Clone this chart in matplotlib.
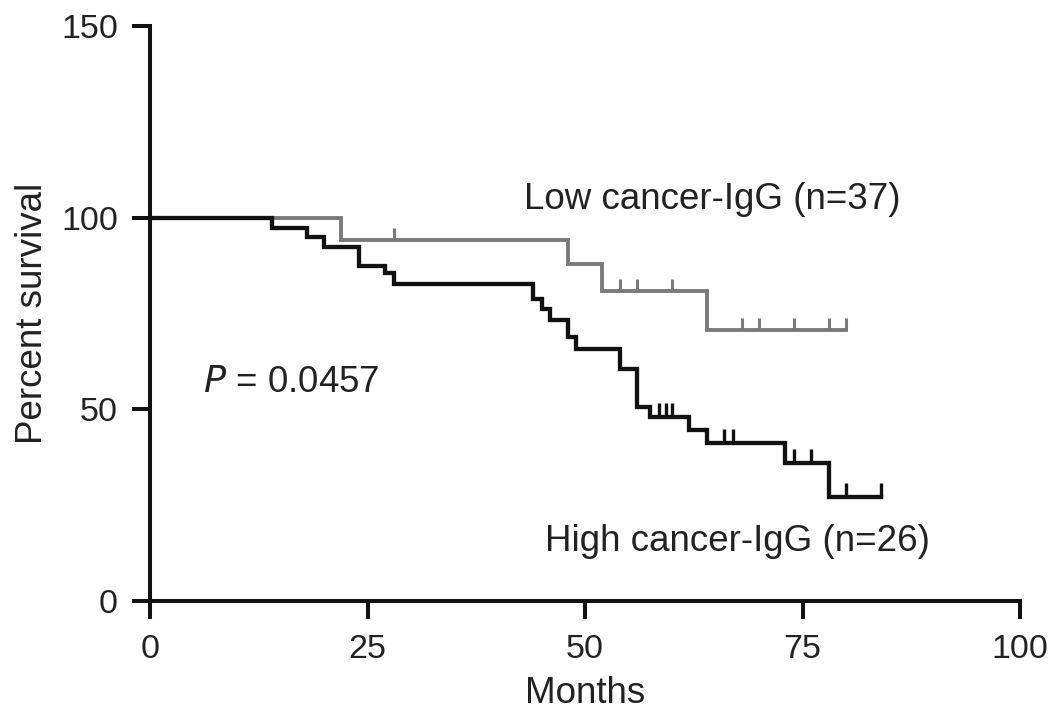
import numpy as np
import matplotlib
matplotlib.use("Agg")
import matplotlib.pyplot as plt

plt.rcParams['font.family'] = ['Liberation Sans', 'DejaVu Sans']

# lower curve (black)
high_times = [0, 14, 18, 20, 24, 27, 28, 44, 45, 46, 48, 49, 54, 56, 57.5, 62, 64, 73, 78, 84]
high_surv = [100, 97.4, 94.9, 92.3, 87.4, 85.5, 82.8, 78.7, 76.2, 73.2, 69.0, 65.7, 60.6, 50.5, 47.9, 44.5, 41.3, 36.0, 27.2, 27.2]
high_censor = [58.5, 59.3, 60, 66, 67, 74, 76, 80, 84]

# upper curve (grey)
low_times = [0, 22, 48, 52, 64, 80]
low_surv = [100, 94.1, 87.8, 80.8, 70.8, 70.8]
low_censor = [28, 54, 56, 60, 68, 70, 74, 78, 80]

x_ticks = [0, 25, 50, 75, 100]
y_ticks = [0, 50, 100, 150]


def surv_at(times, surv, t):
    i = np.searchsorted(times, t, side='right') - 1
    return np.array(surv)[i]


fig = plt.figure(figsize=(10.63, 7.23), dpi=100)
ax = fig.add_axes([150 / 1063, 1 - 601 / 723, 870 / 1063, 575 / 723])

grey = '#7a7a7a'
ax.step(low_times, low_surv, where='post', color=grey, lw=2.8, solid_joinstyle='miter')
ax.plot(low_censor, surv_at(low_times, low_surv, low_censor), ls='none',
        marker=2, ms=9, mew=2.2, color=grey)

ax.step(high_times, high_surv, where='post', color='#111111', lw=3.1, solid_joinstyle='miter')
ax.plot(high_censor, surv_at(high_times, high_surv, high_censor), ls='none',
        marker=2, ms=10, mew=2.4, color='#111111')

ax.set_xlim(0, 100)
ax.set_ylim(0, 150)
ax.set_xticks(x_ticks)
ax.set_yticks(y_ticks)
for s in ['top', 'right']:
    ax.spines[s].set_visible(False)
for s in ['left', 'bottom']:
    ax.spines[s].set_linewidth(2.9)
    ax.spines[s].set_color('#111111')
ax.tick_params(length=13, width=2.9, color='#111111', labelsize=24.5,
               labelcolor='#222222', pad=11)
ax.tick_params(axis='y', pad=10)

ax.set_xlabel('Months', fontsize=26.5, color='#222222', labelpad=8)
ax.set_ylabel('Percent survival', fontsize=26.5, color='#222222', labelpad=8)

ax.text(43, 104.8, 'Low cancer-IgG (n=37)', fontsize=26.5, color='#222222', va='center')
ax.text(45.4, 15.5, 'High cancer-IgG (n=26)', fontsize=26.5, color='#222222', va='center')
ax.text(6.1, 57.0, '$\\it{P}$ = 0.0457', fontsize=26.5, color='#222222', va='center')

fig.savefig('out.png', dpi=100)
